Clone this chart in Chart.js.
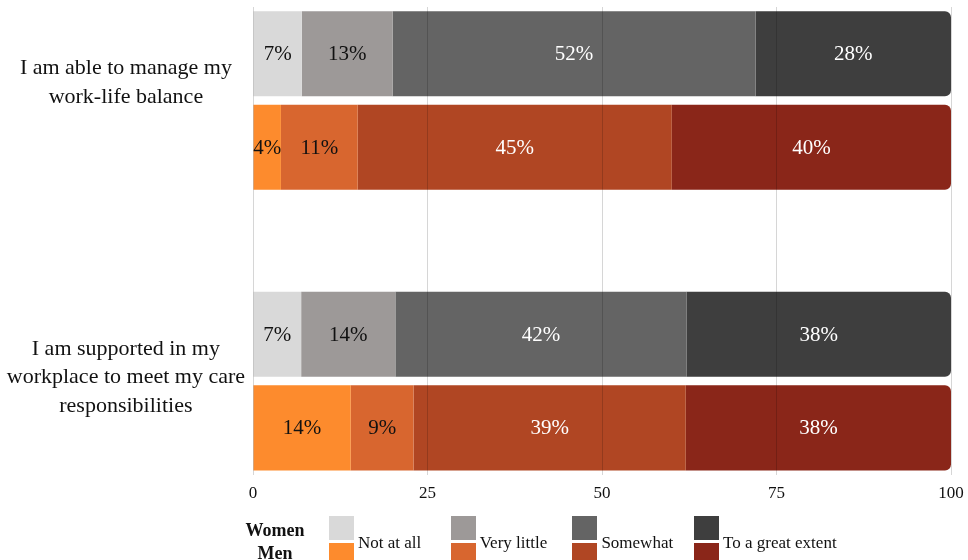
<!DOCTYPE html>
<html>
<head>
<meta charset="utf-8">
<script src="https://cdn.jsdelivr.net/npm/chart.js@4.4.1/dist/chart.umd.min.js"></script>
<style>
    html, body { margin: 0; padding: 0; background: #fff; }
    #wrap { position: relative; width: 968px; height: 560px; overflow: hidden; }
    #legend { position: absolute; left: 0; top: 0; width: 968px; height: 560px; pointer-events: none;
              font-family: 'Liberation Serif', 'DejaVu Serif', serif; color: #111; }
    .grp { position: absolute; width: 82px; text-align: center; font-weight: bold; font-size: 18px; line-height: 22px; }
    .box { position: absolute; width: 25px; height: 24px; }
    .lbl { position: absolute; font-size: 17px; line-height: 22px; white-space: nowrap; }
</style>
</head>
<body>
<div id="wrap">
    <canvas id="chart"></canvas>
    <div id="legend"></div>
</div>
<script>
const questions = [
    ['I am able to manage my', 'work-life balance'],
    ['I am supported in my', 'workplace to meet my care', 'responsibilities']
];
const responses = ['Not at all', 'Very little', 'Somewhat', 'To a great extent'];
const groups = ['Women', 'Men'];

// share of respondents per response, in the order of `responses`
const womenQ1 = [7, 13, 52, 28];
const menQ1 = [4, 11, 45, 40];
const womenQ2 = [6.9, 13.5, 41.7, 37.9];
const menQ2 = [14, 9, 39, 38];

const xTicks = [0, 25, 50, 75, 100];

const womenColors = ['#d9d9d9', '#9d9998', '#646464', '#3e3e3e'];
const menColors = ['#fd8b2d', '#d8662f', '#b04623', '#8a2619'];

const FONT = "'Liberation Serif', 'DejaVu Serif', serif";
Chart.defaults.font.family = FONT;
Chart.defaults.color = '#111';

// one row per bar, with an empty row between the two questions
const rowData = [womenQ1, menQ1, null, womenQ2, menQ2];
const rowColors = [womenColors, menColors, null, womenColors, menColors];
const rowLabels = [questions[0], '', '', questions[1], ''];

const datasets = responses.map((r, k) => ({
    label: r,
    data: rowData.map(row => row ? row[k] : null),
    backgroundColor: rowColors.map(c => c ? c[k] : 'transparent'),
    borderWidth: 0,
    borderRadius: k === responses.length - 1 ? 6 : 0,
    barPercentage: 0.91,
    categoryPercentage: 1
}));

// percentages written inside each segment
const segmentLabels = {
    id: 'segmentLabels',
    afterDraw(chart) {
        const ctx = chart.ctx;
        ctx.save();
        ctx.font = '21px ' + FONT;
        ctx.textAlign = 'center';
        ctx.textBaseline = 'middle';
        chart.data.datasets.forEach((ds, k) => {
            const meta = chart.getDatasetMeta(k);
            ctx.fillStyle = k < 2 ? '#111' : '#fff';
            meta.data.forEach((el, i) => {
                const v = ds.data[i];
                if (v == null) return;
                const p = el.getProps(['x', 'base', 'y'], true);
                ctx.fillText(Math.round(v) + '%', (p.x + p.base) / 2, p.y + 1);
            });
        });
        ctx.restore();
    }
};

new Chart(document.getElementById('chart'), {
    type: 'bar',
    data: { labels: rowLabels, datasets },
    options: {
        indexAxis: 'y',
        responsive: true,
        maintainAspectRatio: false,
        animation: false,
        layout: { padding: { top: 7, bottom: 47, right: 17, left: 0 } },
        plugins: {
            legend: { display: false },
            tooltip: { enabled: false }
        },
        scales: {
            x: {
                stacked: true,
                min: 0,
                max: 100,
                afterBuildTicks: s => { s.ticks = xTicks.map(v => ({ value: v })); },
                afterFit: s => { s.paddingLeft = 0; s.paddingRight = 0; },
                grid: { z: 1, color: 'rgba(0,0,0,0.16)', drawTicks: false },
                border: { display: false },
                ticks: { font: { size: 17 }, padding: 9, color: '#111' }
            },
            y: {
                stacked: true,
                afterFit: s => { s.width = 253; s.paddingTop = 0; s.paddingBottom = 0; },
                grid: { display: false, drawTicks: false },
                border: { display: false },
                ticks: {
                    autoSkip: false,
                    crossAlign: 'center',
                    padding: 8,
                    color: '#111',
                    font: { size: 22, lineHeight: 1.3 },
                    labelOffset: 43,
                    // pad question labels to three lines so both sit the same way
                    callback: (v, i) => {
                        const l = rowLabels[i];
                        if (!Array.isArray(l)) return l;
                        return l.length < 3 ? l.concat(['']) : l;
                    }
                }
            }
        }
    },
    plugins: [segmentLabels]
});

// legend: one row of swatches for each group, response names between the rows
const legend = document.getElementById('legend');
groups.forEach((g, j) => {
    const d = document.createElement('div');
    d.className = 'grp';
    d.textContent = g;
    d.style.left = '234px';
    d.style.top = (519 + j * 23) + 'px';
    legend.appendChild(d);
});
responses.forEach((r, k) => {
    const left = 329 + k * 121.7;
    [womenColors, menColors].forEach((c, j) => {
        const b = document.createElement('div');
        b.className = 'box';
        b.style.left = left + 'px';
        b.style.top = (516 + j * 27) + 'px';
        b.style.background = c[k];
        legend.appendChild(b);
    });
    const t = document.createElement('div');
    t.className = 'lbl';
    t.textContent = r;
    t.style.left = (left + 29) + 'px';
    t.style.top = '532px';
    legend.appendChild(t);
});
</script>
</body>
</html>
